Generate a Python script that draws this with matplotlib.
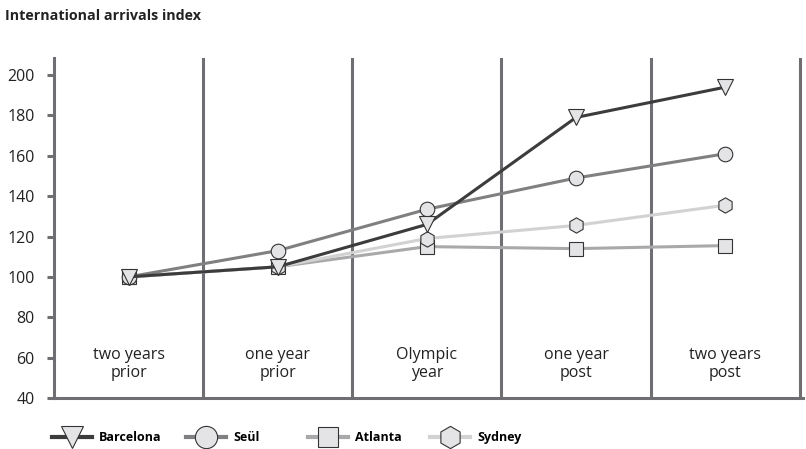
import matplotlib.pyplot as plt
from matplotlib.lines import Line2D

plt.rcParams['font.family'] = ['Open Sans', 'DejaVu Sans']

periods = ['two years\nprior', 'one year\nprior', 'Olympic\nyear', 'one year\npost', 'two years\npost']
barcelona = [100, 105, 126, 179, 194]
seoul = [100, 113, 133.5, 149, 161]
atlanta = [100, 105, 115, 114, 115.5]
sydney = [100, 105, 119, 125.5, 135.5]

x = range(len(periods))
grid_col = '#6e6e73'
face = '#e4e4e6'
edge = '#333333'

fig = plt.figure(figsize=(8.06, 4.49), dpi=100)
ax = fig.add_axes([0.067, 0.1136, 0.929, 0.757])

# period dividers
for b in [0.5, 1.5, 2.5, 3.5, 4.5]:
    ax.axvline(b, color=grid_col, lw=2.2, zorder=1)

series = [
    ('Atlanta', atlanta, '#a9a9ab', 's', 9.5),
    ('Sydney', sydney, '#d2d2d2', 'h', 11),
    ('Seül', seoul, '#808083', 'o', 10.5),
    ('Barcelona', barcelona, '#3c3c3c', 'v', 11),
]
for name, vals, col, mk, ms in series:
    ax.plot(x, vals, color=col, lw=2.2, marker=mk, ms=ms,
            mfc=face, mec=edge, mew=0.8, zorder=3)

for i, lab in enumerate(periods):
    ax.text(i, 57, lab, ha='center', va='center', fontsize=11.5,
            color='#222222', linespacing=1.15)

ax.set_xlim(-0.5, 4.52)
ax.set_ylim(40, 208.4)
ax.set_yticks(range(40, 201, 20))
ax.set_xticks([])
for s in ['top', 'right']:
    ax.spines[s].set_visible(False)
for s in ['left', 'bottom']:
    ax.spines[s].set_color(grid_col)
    ax.spines[s].set_linewidth(2.2)
ax.tick_params(axis='y', length=5, width=2.2, color=grid_col,
               labelsize=11.5, labelcolor='#222222', pad=9)

fig.text(0.006, 0.965, 'International arrivals index', fontsize=10.3,
         fontweight='bold', color='#222222', va='center')

# legend entries, one per city
legend_pos = [0.064, 0.231, 0.382, 0.533]
legend_items = [
    ('Barcelona', '#3c3c3c', 'v', 16),
    ('Seül', '#808083', 'o', 16),
    ('Atlanta', '#a9a9ab', 's', 15),
    ('Sydney', '#d2d2d2', 'h', 16),
]
for pos, (name, col, mk, ms) in zip(legend_pos, legend_items):
    h = Line2D([], [], color=col, lw=3, marker=mk, ms=ms,
               mfc=face, mec=edge, mew=0.8)
    fig.legend([h], [name], loc='center left', bbox_to_anchor=(pos, 0.025),
               frameon=False, handlelength=3.2, handletextpad=0.6,
               borderpad=0, borderaxespad=0,
               prop={'size': 9, 'weight': 'bold'})

fig.savefig('out.png', dpi=100)
